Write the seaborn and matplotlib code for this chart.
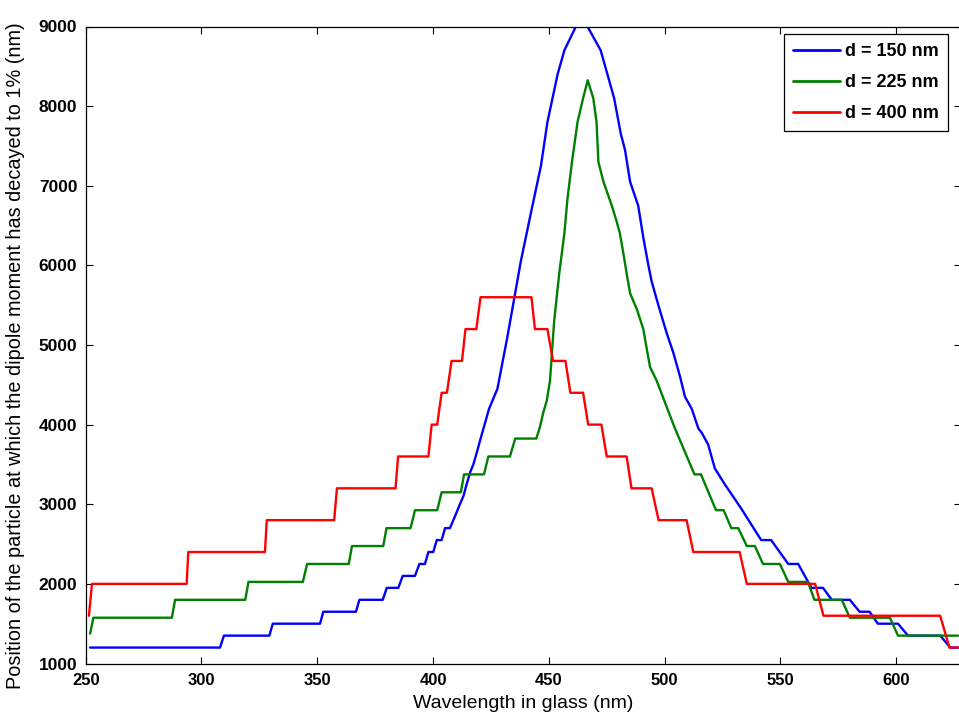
import matplotlib
matplotlib.use("Agg")
import matplotlib.pyplot as plt
import seaborn as sns
import pandas as pd

# ---- data ----
wl_150 = [251.9, 308.0, 309.7, 329.3, 330.8, 351.2, 352.6, 366.7, 368.2, 378.3, 380.0, 385.0,
          386.9, 392.2, 394.1, 396.5, 398.0, 400.1, 401.6, 403.7, 405.2, 407.3, 409.5, 411.6,
          413.1, 414.5, 416.0, 417.4, 418.9, 420.3, 424.2, 427.8, 432.1, 437.9, 442.2, 446.6,
          449.4, 453.8, 456.7, 461.7, 466.7, 472.4, 475.3, 478.2, 481.1, 482.9, 485.1, 488.6,
          490.8, 493.0, 494.4, 497.3, 500.9, 503.8, 506.7, 508.8, 511.7, 514.6, 516.0, 518.8,
          521.7, 526.0, 533.0, 541.7, 546.0, 553.4, 557.7, 563.4, 568.4, 572.2, 580.0, 584.2,
          588.5, 592.1, 600.8, 605.1, 619.0, 623.4, 626.8]
pos_150 = [1200, 1200, 1350, 1350, 1500, 1500, 1650, 1650, 1800, 1800, 1950, 1950,
           2100, 2100, 2250, 2250, 2400, 2400, 2550, 2550, 2700, 2700, 2850, 3000,
           3100, 3250, 3400, 3500, 3650, 3800, 4200, 4450, 5100, 6050, 6650, 7250,
           7800, 8400, 8700, 9000, 9000, 8700, 8400, 8100, 7650, 7450, 7050, 6750,
           6350, 6000, 5800, 5500, 5150, 4900, 4600, 4350, 4200, 3950, 3900, 3750,
           3450, 3250, 2950, 2550, 2550, 2250, 2250, 1950, 1950, 1800, 1800, 1650,
           1650, 1500, 1500, 1350, 1350, 1200, 1200]

wl_225 = [251.9, 253.3, 287.2, 288.6, 318.9, 320.3, 343.8, 345.6, 363.6, 365.0, 378.5, 379.9,
          390.3, 392.2, 401.8, 403.7, 412.0, 413.4, 422.0, 423.9, 433.2, 435.5, 444.6, 446.2,
          447.6, 449.1, 450.5, 452.3, 454.5, 456.7, 458.1, 460.0, 462.4, 464.6, 466.8, 469.2,
          470.6, 471.4, 473.6, 477.2, 479.3, 480.7, 482.2, 483.6, 485.1, 488.0, 490.8, 492.3,
          493.7, 496.6, 500.2, 504.5, 512.9, 515.7, 522.2, 525.5, 528.8, 531.8, 535.5, 539.0,
          542.5, 549.8, 553.4, 561.9, 564.7, 576.5, 580.0, 597.3, 600.8, 626.8]
pos_225 = [1375, 1575, 1575, 1800, 1800, 2025, 2025, 2250, 2250, 2475, 2475, 2700,
           2700, 2925, 2925, 3150, 3150, 3375, 3375, 3600, 3600, 3825, 3825, 3975,
           4150, 4300, 4550, 5300, 5900, 6400, 6850, 7300, 7800, 8075, 8325, 8100,
           7800, 7300, 7050, 6750, 6550, 6400, 6150, 5900, 5650, 5450, 5200, 4950,
           4725, 4550, 4275, 3950, 3375, 3375, 2925, 2925, 2700, 2700, 2475, 2475,
           2250, 2250, 2025, 2025, 1800, 1800, 1575, 1575, 1350, 1350]

wl_400 = [251.4, 252.7, 293.6, 294.3, 327.4, 328.2, 357.3, 358.5, 383.8, 384.9, 398.0, 399.4,
          401.8, 403.7, 406.0, 408.0, 412.5, 414.0, 418.7, 420.5, 442.5, 444.0, 449.4, 451.8,
          457.2, 459.3, 464.8, 467.0, 472.7, 475.0, 483.6, 485.7, 494.4, 497.4, 509.5, 512.4,
          532.4, 535.5, 565.0, 568.6, 619.0, 623.0, 626.8]
pos_400 = [1600, 2000, 2000, 2400, 2400, 2800, 2800, 3200, 3200, 3600, 3600, 4000,
           4000, 4400, 4400, 4800, 4800, 5200, 5200, 5600, 5600, 5200, 5200, 4800,
           4800, 4400, 4400, 4000, 4000, 3600, 3600, 3200, 3200, 2800, 2800, 2400,
           2400, 2000, 2000, 1600, 1600, 1200, 1200]

labels = ["d = 150 nm", "d = 225 nm", "d = 400 nm"]
colors = ["#0000ff", "#008000", "#ff0000"]
x_ticks = [250, 300, 350, 400, 450, 500, 550, 600]
y_ticks = [1000, 2000, 3000, 4000, 5000, 6000, 7000, 8000, 9000]

frames = []
for lab, xs, ys in zip(labels, [wl_150, wl_225, wl_400], [pos_150, pos_225, pos_400]):
    frames.append(pd.DataFrame({"wl": xs, "pos": ys, "series": lab}))
df = pd.concat(frames, ignore_index=True)

sns.set_theme(style="white")
plt.rcParams["font.family"] = ["Liberation Sans", "DejaVu Sans"]
plt.rcParams["text.color"] = "black"

fig = plt.figure(figsize=(9.59, 7.25), dpi=100)
W, H = 959.0, 725.0
left, right, bottom, top = 85.7, 961.0, 663.5, 26.5
ax = fig.add_axes([left / W, 1 - bottom / H, (right - left) / W, (bottom - top) / H])

sns.lineplot(data=df, x="wl", y="pos", hue="series", hue_order=labels,
             palette=dict(zip(labels, colors)), sort=False, estimator=None,
             linewidth=1.7, ax=ax, legend=False)

ax.set_xlim(250, 628)
ax.set_ylim(1000, 9000)
ax.set_xticks(x_ticks)
ax.set_yticks(y_ticks)
ax.set_xticklabels([str(v) for v in x_ticks], fontsize=12, fontweight="bold")
ax.set_yticklabels([str(v) for v in y_ticks], fontsize=12.5, fontweight="bold")
ax.tick_params(axis="both", which="both", direction="in", length=5, width=0.8,
               color="black", top=True, right=True, bottom=True, left=True,
               labelcolor="black")
ax.tick_params(axis="x", pad=7)
ax.tick_params(axis="y", pad=6)
for s in ax.spines.values():
    s.set_color("black")
    s.set_linewidth(0.9)
ax.grid(False)

ax.set_xlabel("Wavelength in glass (nm)", fontsize=14, color="black", labelpad=5)
ax.set_ylabel("Position of the particle at which the dipole moment has decayed to 1% (nm)",
              fontsize=14.3, color="black")
ax.yaxis.set_label_coords(-0.069, 0.484)

handles = [plt.Line2D([], [], color=c, lw=2) for c in colors]
leg = ax.legend(handles, labels, loc="upper right",
                bbox_to_anchor=(948 / W, 1 - 34 / H), bbox_transform=fig.transFigure,
                borderaxespad=0, fancybox=False, framealpha=1, edgecolor="black",
                prop={"weight": "bold", "size": 13}, handlelength=2.6,
                handletextpad=0.3, labelspacing=0.78, borderpad=0.5)
leg.get_frame().set_linewidth(0.9)
for t in leg.get_texts():
    t.set_color("black")

fig.savefig("out.png", dpi=100)
